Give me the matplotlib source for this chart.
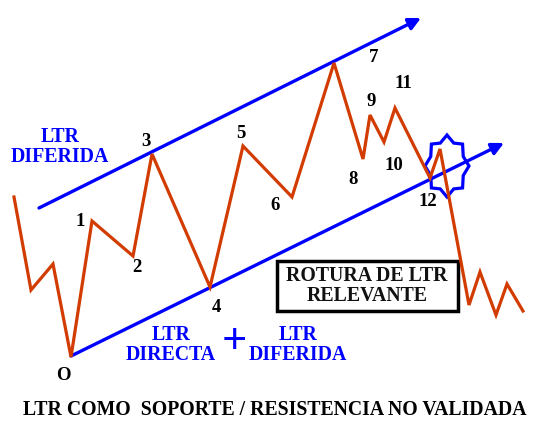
import numpy as np
import matplotlib.pyplot as plt
from matplotlib.patches import Polygon, Rectangle

# price path (pixel-like coords, y grows downward)
px = [14, 31, 53, 71, 92, 133, 152, 210, 243, 292, 334, 363, 370, 384, 395, 430, 440, 469, 480, 496, 507, 523]
py = [197, 290, 264, 357, 221, 256, 154, 287, 146, 197, 63, 159, 115, 142, 108, 178, 149, 305, 272, 315, 284, 311]

# wave labels
lab_txt = ['O', '1', '2', '3', '4', '5', '6', '7', '8', '9', '10', '11', '12']
lab_x = [63, 80, 137, 146, 216, 241, 275, 374, 353, 371, 394, 403, 428]
lab_y = [376, 221, 267, 142, 307, 133, 205, 57, 179, 101, 166, 83, 201]

# trend lines: start and arrow tip
upper_line = [(39, 208), (421, 18)]
lower_line = [(71, 356), (504, 143)]

red = '#D23C00'
blue = '#0000FF'
serif = ['Liberation Serif', 'DejaVu Serif']

fig = plt.figure(figsize=(5.33, 4.22), dpi=100)
ax = fig.add_axes([0, 0, 1, 1])
ax.set_xlim(0, 533)
ax.set_ylim(422, 0)
ax.axis('off')

for (x0, y0), (x1, y1) in [upper_line, lower_line]:
    ax.annotate('', xy=(x1, y1), xytext=(x0, y0),
                arrowprops=dict(arrowstyle='-|>', color=blue, lw=2.4,
                                mutation_scale=18, shrinkA=0, shrinkB=0))

ax.plot(px, py, color=red, lw=2.3, solid_joinstyle='miter', zorder=3)

# 8 point star round the break
cx, cy, rx, ry = 447, 166, 22, 31
ang = np.deg2rad(np.arange(16) * 22.5 + 90)
rr = np.where(np.arange(16) % 2 == 0, 1.0, 0.8)
star = np.column_stack([cx + rx * rr * np.cos(ang), cy - ry * rr * np.sin(ang)])
ax.add_patch(Polygon(star, closed=True, fill=False, edgecolor=blue, lw=2.3, zorder=2))

for t, x, y in zip(lab_txt, lab_x, lab_y):
    ax.text(x, y, t, ha='center', va='center', fontsize=13.5, fontweight='bold',
            family=serif, color='black')

blue_txt = [('LTR\nDIFERIDA', 60, 147), ('LTR\nDIRECTA', 171, 345), ('LTR\nDIFERIDA', 298, 345)]
for t, x, y in blue_txt:
    ax.text(x, y, t, ha='center', va='center', fontsize=14.3, fontweight='bold',
            family=serif, color=blue, linespacing=0.95)
ax.text(234, 342, '+', ha='center', va='center', fontsize=32, fontweight='bold',
        family=serif, color=blue)

ax.add_patch(Rectangle((277, 261), 181, 50, fill=False, edgecolor='black', lw=2.5))
ax.text(367, 286, 'ROTURA DE LTR\nRELEVANTE', ha='center', va='center', fontsize=14.3,
        fontweight='bold', family=serif, color='#111111', linespacing=0.95)

ax.text(275, 410, 'LTR COMO  SOPORTE / RESISTENCIA NO VALIDADA', ha='center', va='center',
        fontsize=14.2, fontweight='bold', family=serif, color='black')

fig.savefig('out.png', dpi=100)
